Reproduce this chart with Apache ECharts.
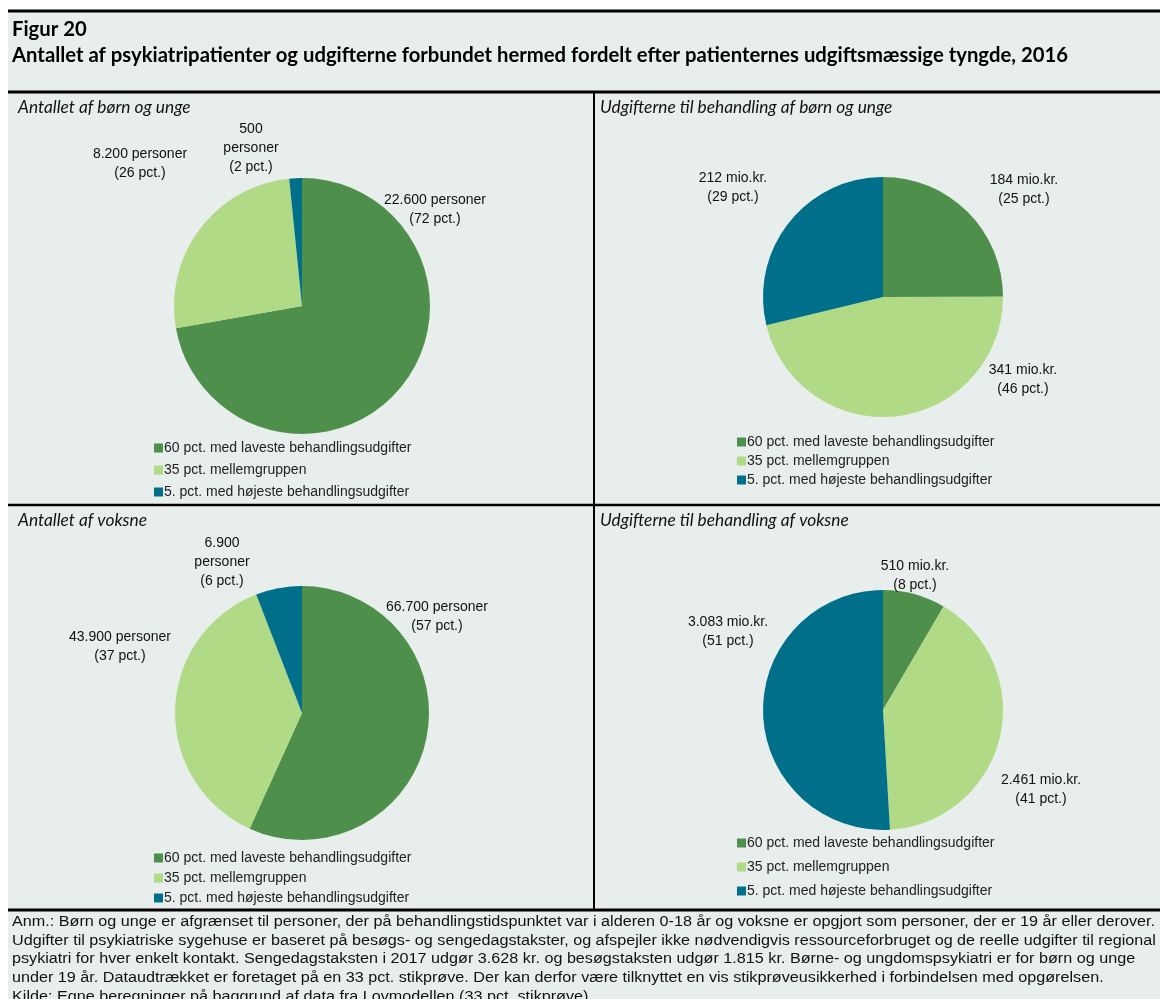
<!DOCTYPE html>
<html>
<head>
<meta charset="utf-8">
<title>Figur 20</title>
<script src="https://cdn.jsdelivr.net/npm/echarts@6/dist/echarts.min.js"></script>
<style>
  html, body { margin: 0; padding: 0; background: #fff; }
  #chart { width: 1160px; height: 999px; }
</style>
</head>
<body>
<div id="chart"></div>
<script>
// grupper (legend)
const groups = [
  '60 pct. med laveste behandlingsudgifter',
  '35 pct. mellemgruppen',
  '5. pct. med højeste behandlingsudgifter'
];
// antal personer / udgifter i mio.kr.
const boernAntal = [22600, 8200, 500];
const boernAntalPct = [72, 26, 2];
const boernUdgift = [184, 341, 212];
const boernUdgiftPct = [25, 46, 29];
const voksneAntal = [66700, 43900, 6900];
const voksneAntalPct = [57, 37, 6];
const voksneUdgift = [510, 2461, 3083];
const voksneUdgiftPct = [8, 41, 51];

const panelTitles = [
  'Antallet af børn og unge',
  'Udgifterne til behandling af børn og unge',
  'Antallet af voksne',
  'Udgifterne til behandling af voksne'
];

const noteLines = [
  'Anm.: Børn og unge er afgrænset til personer, der på behandlingstidspunktet var i alderen 0-18 år og voksne er opgjort som personer, der er 19 år eller derover.',
  'Udgifter til psykiatriske sygehuse er baseret på besøgs- og sengedagstakster, og afspejler ikke nødvendigvis ressourceforbruget og de reelle udgifter til regional',
  'psykiatri for hver enkelt kontakt. Sengedagstaksten i 2017 udgør 3.628 kr. og besøgstaksten udgør 1.815 kr. Børne- og ungdomspsykiatri er for børn og unge',
  'under 19 år. Dataudtrækket er foretaget på en 33 pct. stikprøve. Der kan derfor være tilknyttet en vis stikprøveusikkerhed i forbindelsen med opgørelsen.',
  'Kilde: Egne beregninger på baggrund af data fra Lovmodellen (33 pct. stikprøve).'
];

const colors = ['#4f8f4c', '#b0da85', '#00708a'];
const bg = '#e8eeeb';

// dansk tusindtalsseparator
function fmt(n) {
  return String(n).replace(/\B(?=(\d{3})+(?!\d))/g, '.');
}

// label-tekster
function personLabels(vals, pcts, brokenIdx) {
  return vals.map((v, i) => fmt(v) + (i === brokenIdx ? '\n' : ' ') + 'personer\n(' + pcts[i] + ' pct.)');
}
function udgiftLabels(vals, pcts) {
  return vals.map((v, i) => fmt(v) + ' mio.kr.\n(' + pcts[i] + ' pct.)');
}

// layout for hvert panel: centrum, radius, label-placering, legend
const panels = [
  { vals: boernAntal, labels: personLabels(boernAntal, boernAntalPct, 2),
    center: [302, 306], r: 128,
    labelPos: [[435, 210], [140, 164], [251, 148]],
    legend: { left: 149, top: 436, gap: 8 } },
  { vals: boernUdgift, labels: udgiftLabels(boernUdgift, boernUdgiftPct),
    center: [883, 297], r: 120,
    labelPos: [[1024, 190], [1023, 380], [733, 188]],
    legend: { left: 732, top: 430, gap: 5 } },
  { vals: voksneAntal, labels: personLabels(voksneAntal, voksneAntalPct, 2),
    center: [302, 713], r: 127,
    labelPos: [[437, 617], [120, 647], [222, 562]],
    legend: { left: 149, top: 846, gap: 6 } },
  { vals: voksneUdgift, labels: udgiftLabels(voksneUdgift, voksneUdgiftPct),
    center: [883, 710], r: 120,
    labelPos: [[915, 576], [1041, 790], [728, 632]],
    legend: { left: 732, top: 831, gap: 10 } }
];

const titlePos = [[13, 94], [595, 94], [13, 507], [595, 507]];

let myChart = echarts.init(document.getElementById('chart'));

let titles = [
  { text: 'Figur 20', left: 7, top: 14,
    textStyle: { fontFamily: 'Lato', fontWeight: 'bold', fontSize: 20.3, color: '#000' } },
  { text: 'Antallet af psykiatripatienter og udgifterne forbundet hermed fordelt efter patienternes udgiftsmæssige tyngde, 2016',
    left: 7, top: 40,
    textStyle: { fontFamily: 'Lato', fontWeight: 'bold', fontSize: 20.3, color: '#000' } }
];
panelTitles.forEach((t, i) => {
  titles.push({ text: t, left: titlePos[i][0], top: titlePos[i][1],
    textStyle: { fontFamily: 'Lato', fontStyle: 'italic', fontWeight: 'normal', fontSize: 17.3, color: '#111' } });
});

let legends = panels.map(p => ({
  orient: 'vertical',
  left: p.legend.left,
  top: p.legend.top,
  itemGap: p.legend.gap,
  itemWidth: 9,
  itemHeight: 9,
  icon: 'rect',
  selectedMode: false,
  data: groups,
  textStyle: { fontFamily: 'Liberation Sans', fontSize: 14, color: '#222', padding: [0, 0, 0, -4] }
}));

let series = panels.map(p => ({
  type: 'pie',
  center: p.center,
  radius: p.r,
  startAngle: 90,
  clockwise: true,
  silent: true,
  animation: false,
  data: p.vals.map((v, i) => ({ name: groups[i], value: v, itemStyle: { color: colors[i] } })),
  label: {
    show: true,
    position: 'outside',
    formatter: params => p.labels[params.dataIndex],
    fontFamily: 'Liberation Sans',
    fontSize: 14,
    lineHeight: 19,
    color: '#111',
    align: 'center'
  },
  labelLine: { show: false },
  labelLayout: params => ({
    x: p.labelPos[params.dataIndex][0],
    y: p.labelPos[params.dataIndex][1],
    align: 'center',
    verticalAlign: 'middle'
  })
}));

// smal skrift til note: Liberation Sans klemt sammen
const noteFont = '14px "Liberation Sans"';
let ctx = document.createElement('canvas').getContext('2d');
ctx.font = noteFont;
let noteScale = 1143 / ctx.measureText(noteLines[0]).width;

// rammer og baggrund
let lineStyle = { stroke: '#000', lineWidth: 3 };
let graphic = [
  { type: 'rect', shape: { x: 8, y: 11, width: 1152, height: 988 }, style: { fill: bg }, z: -10 },
  { type: 'line', shape: { x1: 8, y1: 11, x2: 1160, y2: 11 }, style: lineStyle },
  { type: 'line', shape: { x1: 8, y1: 92, x2: 1160, y2: 92 }, style: lineStyle },
  { type: 'line', shape: { x1: 8, y1: 505, x2: 1160, y2: 505 }, style: { stroke: '#000', lineWidth: 2.5 } },
  { type: 'line', shape: { x1: 8, y1: 910, x2: 1160, y2: 910 }, style: lineStyle },
  { type: 'line', shape: { x1: 594, y1: 92, x2: 594, y2: 910 }, style: { stroke: '#000', lineWidth: 2 } }
];
noteLines.forEach((t, i) => {
  graphic.push({
    type: 'text', x: 12, y: 915 + i * 18.8, scaleX: noteScale,
    style: { text: t, font: noteFont, fill: '#111', verticalAlign: 'top' }
  });
});

myChart.setOption({
  backgroundColor: '#fff',
  animation: false,
  title: titles,
  legend: legends,
  graphic: graphic,
  series: series
});
</script>
</body>
</html>
